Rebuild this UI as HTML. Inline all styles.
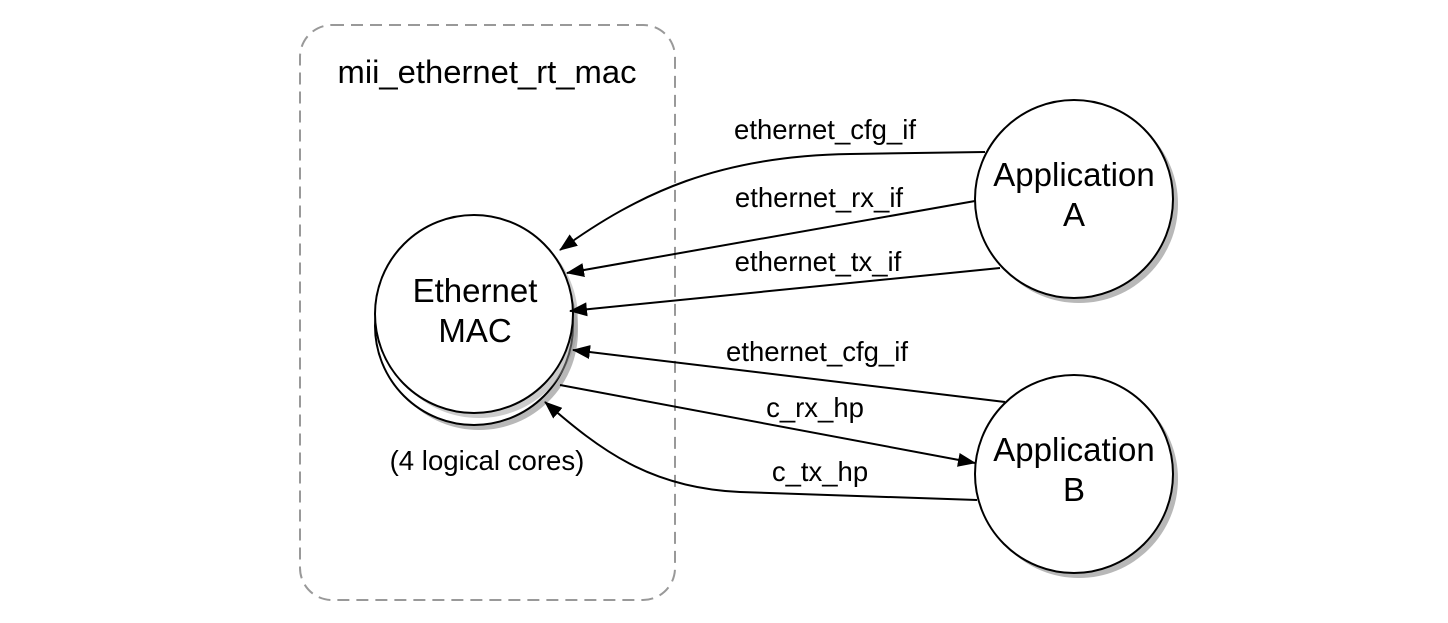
<!DOCTYPE html>
<html><head><style>body{margin:0;background:#fff}svg{display:block}</style></head>
<body>
<svg width="1448" height="623" viewBox="0 0 1448 623" xmlns="http://www.w3.org/2000/svg" font-family="Liberation Sans, sans-serif">
<defs>
<marker id="a" markerWidth="18" markerHeight="14" refX="17" refY="7" orient="auto" markerUnits="userSpaceOnUse" viewBox="0 0 18 14"><path d="M0,0 L18,7 L0,14 Z" fill="#000"/></marker>
</defs>
<rect x="300" y="25" width="375" height="575" rx="32" fill="none" stroke="#999" stroke-width="2" stroke-dasharray="12,7"/>
<text x="487" y="83" font-size="32.8" text-anchor="middle">mii_ethernet_rt_mac</text>
<!-- Ethernet MAC -->
<circle cx="479" cy="331" r="99" fill="#888" opacity="0.6"/>
<circle cx="474" cy="326" r="99" fill="#fff" stroke="#000" stroke-width="2"/>
<circle cx="479" cy="319" r="99" fill="#999" opacity="0.5"/>
<circle cx="474" cy="314" r="99" fill="#fff" stroke="#000" stroke-width="2"/>
<text x="475" y="302" font-size="33" text-anchor="middle">Ethernet</text>
<text x="475" y="342" font-size="33" text-anchor="middle">MAC</text>
<text x="487" y="470" font-size="27.6" text-anchor="middle">(4 logical cores)</text>
<!-- App A -->
<circle cx="1079" cy="204" r="99" fill="#888" opacity="0.6"/>
<circle cx="1074" cy="199" r="99" fill="#fff" stroke="#000" stroke-width="2"/>
<text x="1074" y="186" font-size="33" text-anchor="middle">Application</text>
<text x="1074" y="226" font-size="33" text-anchor="middle">A</text>
<!-- App B -->
<circle cx="1079" cy="479" r="99" fill="#888" opacity="0.6"/>
<circle cx="1074" cy="474" r="99" fill="#fff" stroke="#000" stroke-width="2"/>
<text x="1074" y="461" font-size="33" text-anchor="middle">Application</text>
<text x="1074" y="501" font-size="33" text-anchor="middle">B</text>
<!-- connectors -->
<g fill="none" stroke="#000" stroke-width="2">
<path d="M985,152 L850,154 C720,156 640,192 560,250" marker-end="url(#a)"/>
<path d="M975,201 L567,273" marker-end="url(#a)"/>
<path d="M1000,268 L570,311" marker-end="url(#a)"/>
<path d="M1005,402 L573,350" marker-end="url(#a)"/>
<path d="M560,385 L975,463" marker-end="url(#a)"/>
<path d="M977,500 L740,492 C650,488 600,450 545,402" marker-end="url(#a)"/>
</g>
<g font-size="27.5" text-anchor="middle">
<text x="825" y="139">ethernet_cfg_if</text>
<text x="819" y="207">ethernet_rx_if</text>
<text x="818" y="271">ethernet_tx_if</text>
<text x="817" y="361">ethernet_cfg_if</text>
<text x="815" y="417">c_rx_hp</text>
<text x="820" y="481">c_tx_hp</text>
</g>
</svg>
</body></html>
